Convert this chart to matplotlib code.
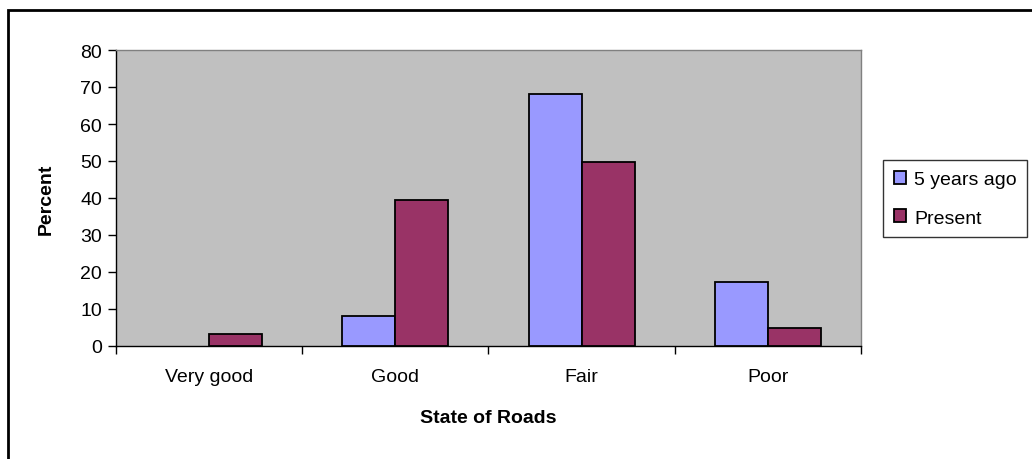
import matplotlib
matplotlib.use("Agg")
import matplotlib.pyplot as plt
from matplotlib.patches import Rectangle
import numpy as np

categories = ["Very good", "Good", "Fair", "Poor"]
five_years_ago = [0, 8.1, 68.1, 17.3]
present = [3.3, 39.5, 49.6, 4.9]
series_names = ["5 years ago", "Present"]
yticks = [0, 10, 20, 30, 40, 50, 60, 70, 80]

plt.rcParams['font.family'] = ['Liberation Sans', 'DejaVu Sans']
FS = 14

W, H = 1032, 460
fig = plt.figure(figsize=(W / 100, H / 100), dpi=100)
fig.patch.set_facecolor("white")

# plot area in pixels: left 116, right 861, top 51, bottom 347
ax = fig.add_axes([116 / W, 1 - 347 / H, (861 - 116) / W, (347 - 51) / H])
ax.set_facecolor("#C0C0C0")

x = np.arange(len(categories))
bw = 0.285
lw1 = [1.3 if v > 0 else 0 for v in five_years_ago]
lw2 = [1.3 if v > 0 else 0 for v in present]
ax.bar(x - bw / 2, five_years_ago, bw, color="#9999FF", edgecolor="black", linewidth=lw1,
       label=series_names[0], zorder=3)
ax.bar(x + bw / 2, present, bw, color="#993366", edgecolor="black", linewidth=lw2,
       label=series_names[1], zorder=3)

ax.set_xlim(-0.5, len(categories) - 0.5)
ax.set_ylim(0, 80)
ax.set_yticks(yticks)
ax.set_yticklabels([str(v) for v in yticks], fontsize=FS)

ax.set_xticks(np.arange(len(categories) + 1) - 0.5)
ax.set_xticklabels([])
ax.set_xticks(x, minor=True)
ax.set_xticklabels(categories, minor=True, fontsize=FS)
ax.tick_params(axis="x", which="minor", length=0, pad=16)
ax.tick_params(axis="x", which="major", length=6, width=1, color="black")
ax.tick_params(axis="y", length=6, width=1, color="black", pad=4)

for s in ["top", "right"]:
    ax.spines[s].set_color("#808080")
    ax.spines[s].set_linewidth(1)
for s in ["left", "bottom"]:
    ax.spines[s].set_color("black")
    ax.spines[s].set_linewidth(1)

ax.set_xlabel("State of Roads", fontsize=FS, fontweight="bold", labelpad=17)
ax.set_ylabel("Percent", fontsize=FS, fontweight="bold", labelpad=18)

leg = fig.legend(loc="upper left", bbox_to_anchor=(883 / W, 1 - 161 / H),
                 fontsize=FS, frameon=True, fancybox=False, edgecolor="black",
                 handlelength=0.65, handleheight=0.65, handletextpad=0.4,
                 labelspacing=1.1, borderpad=0.55, borderaxespad=0)
leg.get_frame().set_linewidth(1)
for h in leg.legend_handles:
    h.set_linewidth(1.3)
    h.set_edgecolor("black")

# outer chart border
fig.patches.append(Rectangle((8 / W, -0.1), 1.2, 1 - 11 / H + 0.1, transform=fig.transFigure,
                             fill=False, edgecolor="black", linewidth=2, figure=fig))

fig.savefig("out.png", dpi=100)
